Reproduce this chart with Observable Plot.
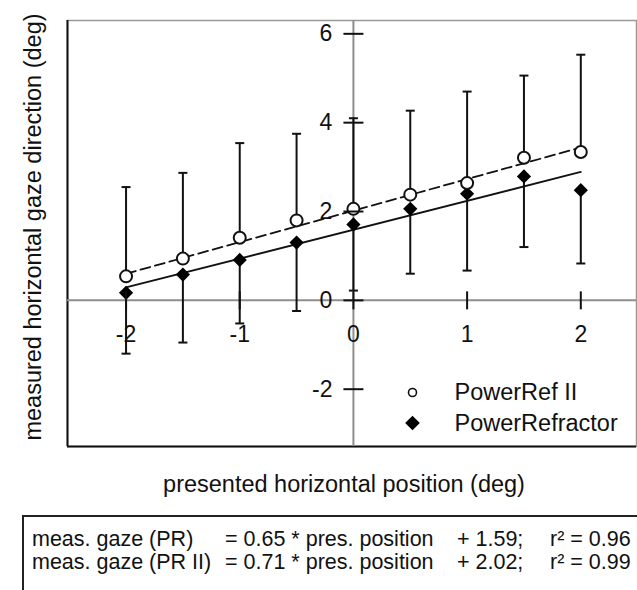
<!DOCTYPE html>
<html>
<head>
<meta charset="utf-8">
<script src="https://cdn.jsdelivr.net/npm/d3@7"></script>
<script src="https://cdn.jsdelivr.net/npm/@observablehq/plot@0.6"></script>
<style>
  html, body { margin: 0; padding: 0; background: #fff; }
  #wrap { position: relative; width: 637px; height: 590px; overflow: hidden; font-family: "Liberation Sans", Arial, sans-serif; color: #111; }
  #chart { position: absolute; left: 0; top: 0; }
  #eqbox { position: absolute; left: 22px; top: 515px; width: 640px; height: 120px; border: 2px solid #222; box-sizing: border-box; }
  .eq { position: absolute; font-size: 21.5px; line-height: 21.5px; white-space: pre; }
</style>
</head>
<body>
<div id="wrap">
  <div id="chart"></div>
  <div id="eqbox"></div>
</div>
<script>
// ---- data ----
const positions = [-2, -1.5, -1, -0.5, 0, 0.5, 1, 1.5, 2];
const seriesNames = ["PowerRef II", "PowerRefractor"];
const powerRefII = [0.54, 0.94, 1.41, 1.80, 2.06, 2.38, 2.64, 3.21, 3.34];
const powerRefIIsd = [2.01, 1.93, 2.13, 1.95, 2.04, 1.89, 2.06, 1.85, 2.19];
const powerRefractor = [0.17, 0.58, 0.91, 1.30, 1.71, 2.06, 2.40, 2.79, 2.48];
const powerRefractorSd = [1.37, 1.53, 1.43, 1.54, 1.49, 1.46, 1.73, 1.59, 1.65];
const fitNames = ["PR", "PR II"];
const fitSlopes = [0.65, 0.71];
const fitIntercepts = [1.59, 2.02];
const fitR2 = ["0.96", "0.99"];
const xTicks = [-2, -1, 0, 1, 2];
const yTicks = [-2, 0, 2, 4, 6];
const xDomain = [-2.515, 2.49];
const yDomain = [-3.29, 6.3];
const xTitle = "presented horizontal position (deg)";
const yTitle = "measured horizontal gaze direction (deg)";

// ---- tables built from the arrays ----
const ref2 = positions.map((x, i) => ({x, y: powerRefII[i], sd: powerRefIIsd[i]}));
const refr = positions.map((x, i) => ({x, y: powerRefractor[i], sd: powerRefractorSd[i]}));
const xExt = d3.extent(positions);
const fitLine = (k) => xExt.map(x => ({x, y: fitSlopes[k] * x + fitIntercepts[k]}));

const hline = {draw(ctx, size) { const r = Math.sqrt(size / Math.PI); ctx.moveTo(-r, 0); ctx.lineTo(r, 0); }};
const vline = {draw(ctx, size) { const r = Math.sqrt(size / Math.PI); ctx.moveTo(0, -r); ctx.lineTo(0, r); }};

const FONT = 23;
const plot = Plot.plot({
  width: 637,
  height: 512,
  marginTop: 20,
  marginLeft: 67,
  marginRight: 1,
  marginBottom: 66,
  style: {fontFamily: '"Liberation Sans", Arial, sans-serif', color: "#111", background: "#fff", overflow: "visible"},
  x: {domain: xDomain, axis: null},
  y: {domain: yDomain, axis: null},
  marks: [
    Plot.frame({stroke: "#999", strokeWidth: 1.5}),
    Plot.ruleX(xDomain.slice(0, 1), {stroke: "#111", strokeWidth: 2}),
    Plot.ruleY(yDomain.slice(0, 1), {stroke: "#111", strokeWidth: 2}),
    // axes through origin
    Plot.ruleX([0], {stroke: "#8e8e8e", strokeWidth: 2}),
    Plot.ruleY([0], {stroke: "#8e8e8e", strokeWidth: 2}),
    // tick labels
    Plot.text(yTicks, {x: () => 0, y: d => d, text: d => String(d), textAnchor: "end", lineAnchor: "middle", dx: -21, fontSize: FONT, fill: "#111"}),
    Plot.text(xTicks, {x: d => d, y: () => 0, text: d => String(d), lineAnchor: "middle", dy: 34, fontSize: FONT, fill: "#111"}),
    // error bars: upward from PowerRef II, downward from PowerRefractor
    Plot.ruleX(ref2, {x: "x", y1: "y", y2: d => d.y + d.sd, stroke: "#111", strokeWidth: 2}),
    Plot.ruleX(refr, {x: "x", y1: "y", y2: d => d.y - d.sd, stroke: "#111", strokeWidth: 2}),
    Plot.dot(ref2, {x: "x", y: d => d.y + d.sd, symbol: hline, r: 4.5, fill: "none", stroke: "#111", strokeWidth: 2}),
    Plot.dot(refr, {x: "x", y: d => d.y - d.sd, symbol: hline, r: 4.5, fill: "none", stroke: "#111", strokeWidth: 2}),
    // regression lines
    Plot.line(fitLine(0), {x: "x", y: "y", stroke: "#111", strokeWidth: 1.8}),
    Plot.line(fitLine(1), {x: "x", y: "y", stroke: "#111", strokeWidth: 1.8, strokeDasharray: "10,5"}),
    // markers
    Plot.dot(refr, {x: "x", y: "y", symbol: "diamond2", r: 6.4, fill: "#000", stroke: "none"}),
    Plot.dot(ref2, {x: "x", y: "y", symbol: "circle", r: 6, fill: "#fff", stroke: "#111", strokeWidth: 2}),
    // axis tick marks
    Plot.dot(yTicks, {x: () => 0, y: d => d, symbol: hline, r: 10, fill: "none", stroke: "#111", strokeWidth: 2}),
    Plot.dot(xTicks, {x: d => d, y: () => 0, symbol: vline, r: 9, fill: "none", stroke: "#111", strokeWidth: 2}),
    // legend
    Plot.dot(seriesNames.slice(0, 1), {frameAnchor: "bottom-right", dx: -224, dy: -54, symbol: "circle", r: 4, fill: "#fff", stroke: "#111", strokeWidth: 1.6}),
    Plot.dot(seriesNames.slice(1, 2), {frameAnchor: "bottom-right", dx: -224, dy: -23.5, symbol: "diamond2", r: 6.6, fill: "#000", stroke: "none"}),
    Plot.text(seriesNames.slice(0, 1), {frameAnchor: "bottom-right", dx: -182, dy: -54, text: d => d, textAnchor: "start", lineAnchor: "middle", fontSize: 23.5, fill: "#111"}),
    Plot.text(seriesNames.slice(1, 2), {frameAnchor: "bottom-right", dx: -182, dy: -23.5, text: d => d, textAnchor: "start", lineAnchor: "middle", fontSize: 23.5, fill: "#111"}),
    // axis titles
    Plot.text([xTitle], {frameAnchor: "bottom", dx: -8, dy: 38, text: d => d, textAnchor: "middle", lineAnchor: "middle", fontSize: 23.5, fill: "#111"}),
    Plot.text([yTitle], {frameAnchor: "left", dx: -34.5, dy: -6.5, rotate: -90, text: d => d, textAnchor: "middle", lineAnchor: "middle", fontSize: 23.5, fill: "#111"})
  ]
});
document.getElementById("chart").appendChild(plot);

// equation box (caption below the chart)
const box = document.getElementById("eqbox");
const boxLeft = 22, boxTop = 515;
const baselines = [547, 570];
const rows = [0, 1].map(k => [
  {x: 32, t: `meas. gaze (${fitNames[k]})`},
  {x: 225, t: `= ${fitSlopes[k].toFixed(2)} * pres. position`},
  {x: 457, t: `+ ${fitIntercepts[k].toFixed(2)};`},
  {x: 550, t: `r\u00B2 = ${fitR2[k]}`}
]);
rows.forEach((row, k) => {
  row.forEach(c => {
    const s = document.createElement("div");
    s.className = "eq";
    s.textContent = c.t;
    s.style.left = (c.x - boxLeft - 2) + "px";
    s.style.top = (baselines[k] - 17.8 - boxTop - 2) + "px";
    box.appendChild(s);
  });
});
</script>
</body>
</html>
